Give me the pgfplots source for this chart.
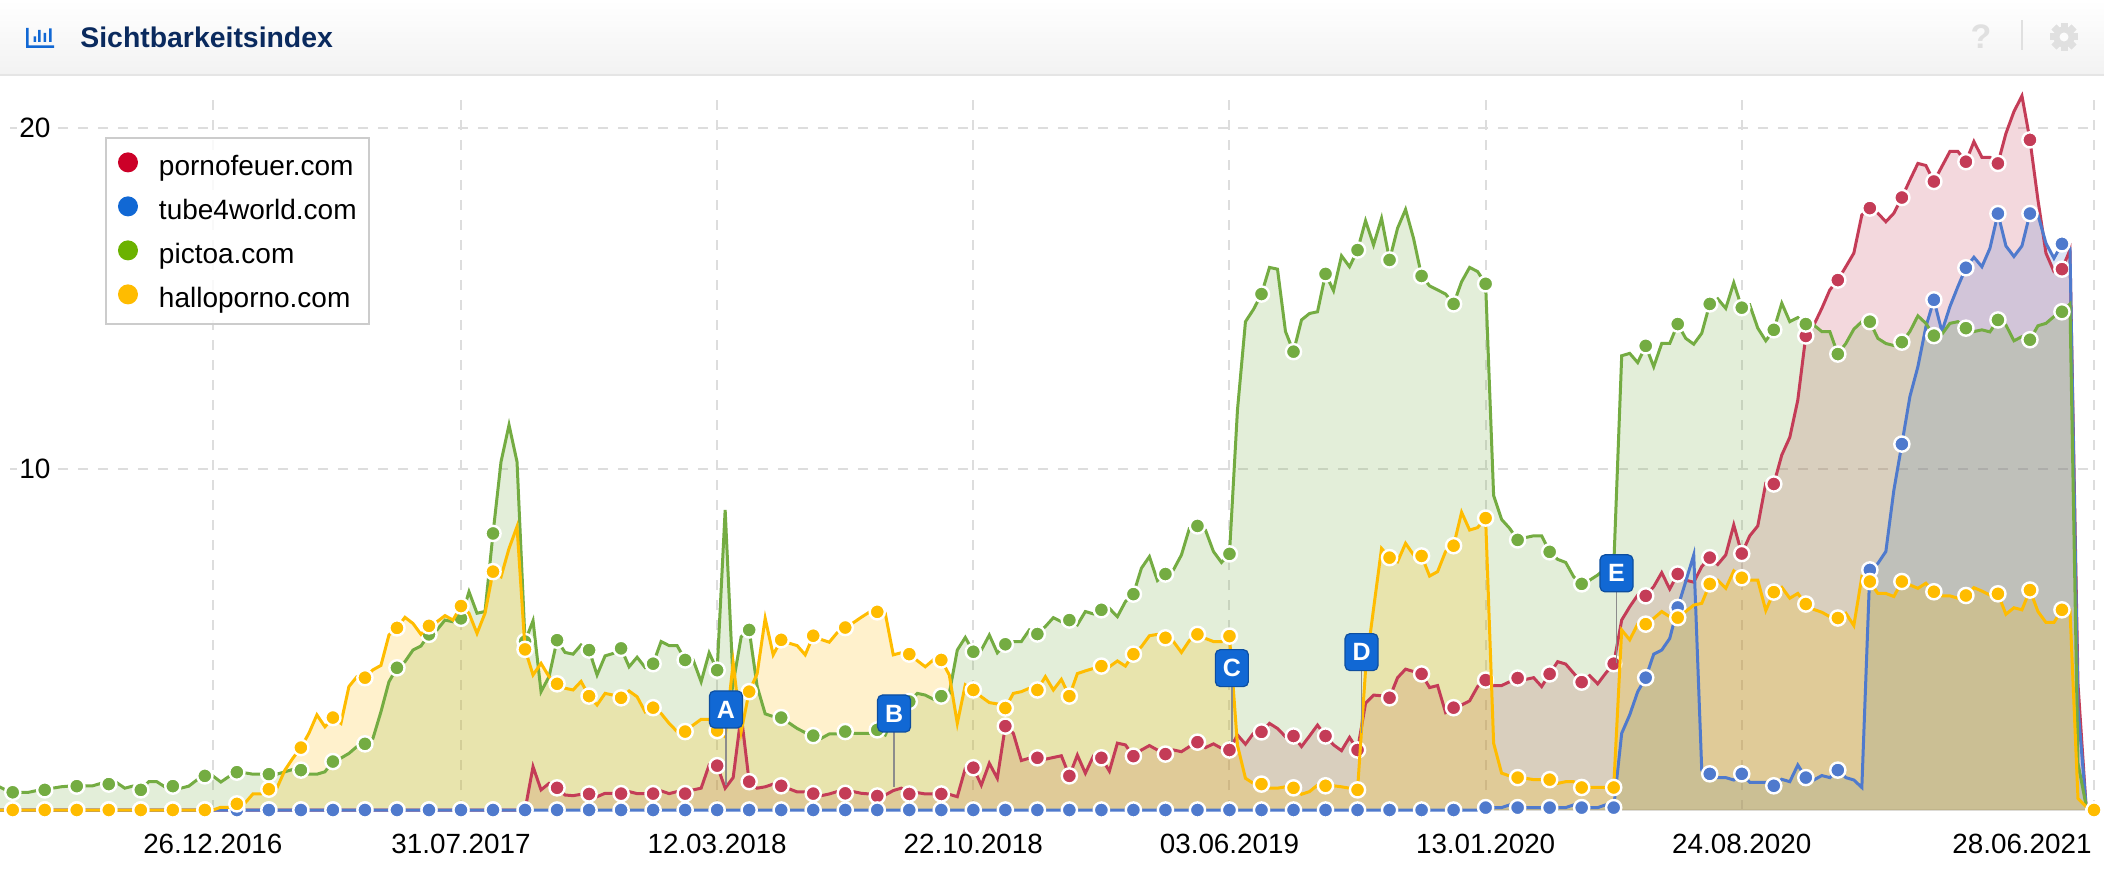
\documentclass[border=0pt]{standalone}
\usepackage{fontspec}
\setmainfont{Liberation Sans}
\usepackage{pgfplots}
\usepackage{pgfplotstable}
\pgfplotsset{compat=1.18}
\definecolor{cRed}{HTML}{C43C57}
\definecolor{cBlue}{HTML}{4F7ACD}
\definecolor{cGreen}{HTML}{74AC42}
\definecolor{cYellow}{HTML}{FFBC00}
\definecolor{legRed}{HTML}{CC0028}
\definecolor{legGreen}{HTML}{6BB200}
\definecolor{flagBlue}{HTML}{1168D4}
\definecolor{navy}{HTML}{0A2A5E}
\definecolor{gridc}{HTML}{DDDDDD}

% weekly values, i = week number (0 = first marker), 28.06.2021 = 260
\pgfplotstableread{
i red blue green yellow
-2 0 0 .72 0
-1 0 0 .6 0
0 0 0 .52 0
1 0 0 .52 0
2 0 0 .52 0
3 0 0 .57 0
4 0 0 .59 0
5 0 0 .64 0
6 0 0 .68 0
7 0 0 .70 0
8 0 0 .70 0
9 0 0 .71 0
10 0 0 .71 0
11 0 0 .78 0
12 0 0 .76 0
13 0 0 .80 0
14 0 0 .64 0
15 0 0 .70 0
16 0 0 .59 0
17 0 0 .83 0
18 0 0 .83 0
19 0 0 .68 0
20 0 0 .70 0
21 0 0 .64 0
22 0 0 .70 0
23 0 0 .88 0
24 0 0 1.0 0
25 0 0 1.0 0
26 0 0 .82 .08
27 0 0 .98 .08
28 0 0 1.11 .18
29 0 0 1.09 .2
30 0 0 1.05 .47
31 0 0 1.05 .47
32 0 0 1.05 .61
33 0 0 1.05 .64
34 0 0 1.12 1.17
35 0 0 1.19 1.52
36 0 0 1.17 1.83
37 0 0 1.05 2.25
38 0 0 1.05 2.79
39 0 0 1.12 2.44
40 0 0 1.42 2.71
41 0 0 1.52 2.54
42 0 0 1.66 3.62
43 0 0 1.86 3.91
44 0 0 1.94 3.88
45 0 0 2.10 4.11
46 0 0 2.88 4.24
47 0 0 3.76 5.13
48 0 0 4.17 5.34
49 0 0 4.35 5.65
50 0 0 4.69 5.47
51 0 0 4.81 5.15
52 0 0 5.15 5.40
53 0 0 5.28 5.52
54 0 0 5.57 5.70
55 0 0 5.52 5.57
56 0 0 5.62 5.98
57 0 0 6.40 5.77
58 0 0 5.77 5.18
59 0 0 5.82 5.77
60 0 0 8.11 6.99
61 0 0 10.21 6.84
62 0 0 11.29 7.67
63 0 0 10.21 8.31
64 0 0 4.94 4.71
65 1.27 0 5.55 3.96
66 .59 0 3.47 4.30
67 .78 0 3.91 3.91
68 .65 0 4.98 3.70
69 .44 0 4.62 3.57
70 .42 0 4.57 3.52
71 .46 0 4.84 3.77
72 .47 0 4.69 3.34
73 .39 0 3.96 3.08
74 .49 0 4.52 3.42
75 .49 0 4.59 3.37
76 .48 0 4.74 3.29
77 .54 0 4.2 3.49
78 .48 0 4.48 3.32
79 .48 0 4.18 2.88
80 .48 0 4.29 3.0
81 .56 0 4.94 2.83
82 .48 0 4.82 2.54
83 .54 0 4.82 2.3
84 .48 0 4.4 2.3
85 .59 0 4.4 2.49
86 .64 0 3.76 2.66
87 1.32 0 4.61 2.66
88 1.3 0 4.1 2.33
89 .64 0 8.8 2.15
90 .95 0 3.71 4.32
91 2.79 0 5.08 2.3
92 .83 0 5.28 3.47
93 .64 0 3.62 4.0
94 .68 0 2.82 5.62
95 .76 0 2.74 4.55
96 .71 0 2.71 4.99
97 .62 0 2.55 4.89
98 .53 0 2.39 4.82
99 .53 0 2.27 4.55
100 .48 0 2.18 5.11
101 .42 0 2.1 5.0
102 .47 0 2.23 4.92
103 .54 0 2.23 5.2
104 .49 0 2.3 5.35
105 .54 0 2.25 5.49
106 .49 0 2.25 5.65
107 .47 0 2.25 5.8
108 .41 0 2.35 5.81
109 .44 0 2.2 5.77
110 .57 0 2.7 4.55
111 .64 0 3.18 4.61
112 .47 0 3.18 4.57
113 .51 0 3.42 4.38
114 .47 0 3.37 4.2
115 .47 0 3.25 4.4
116 .47 0 3.34 4.4
117 .46 0 3.42 3.96
118 .39 0 4.69 2.54
119 1.22 0 5.06 3.67
120 1.24 0 4.64 3.52
121 .73 0 4.69 3.32
122 1.37 0 5.13 3.15
123 .93 0 4.61 3.11
124 2.46 0 4.86 2.99
125 2.25 0 4.94 3.42
126 1.45 0 4.94 3.47
127 1.52 0 5.28 3.57
128 1.53 0 5.16 3.52
129 1.49 0 5.38 3.91
130 1.54 0 5.64 3.52
131 1.59 0 5.52 3.83
132 1.0 0 5.57 3.34
133 1.61 0 5.43 4.0
134 1.08 0 5.82 4.08
135 1.58 0 5.75 4.15
136 1.53 0 5.87 4.22
137 1.14 0 5.91 4.2
138 1.96 0 5.67 4.37
139 1.91 0 6.11 4.22
140 1.58 0 6.33 4.57
141 1.76 0 7.09 4.79
142 1.89 0 7.43 5.11
143 1.76 0 6.73 5.15
144 1.64 0 6.92 5.05
145 1.76 0 7.04 4.94
146 1.71 0 7.48 4.62
147 1.86 0 8.26 4.97
148 1.99 0 8.33 5.15
149 1.83 0 8.21 5.03
150 1.94 0 7.58 4.94
151 1.81 0 7.26 4.94
152 1.76 0 7.51 5.1
153 2.2 0 11.73 1.9
154 1.93 0 14.32 .93
155 2.25 0 14.68 .78
156 2.29 0 15.13 .76
157 2.54 0 15.91 .64
158 2.39 0 15.86 .64
159 2.15 0 14.03 .68
160 2.17 0 13.44 .65
161 1.86 0 14.37 .46
162 2.17 0 14.56 .54
163 2.49 0 14.61 .73
164 2.17 0 15.72 .71
165 1.91 0 15.23 .71
166 1.74 0 16.25 .68
167 2.13 0 15.93 .64
168 1.76 0 16.42 .59
169 3.13 0 17.28 4.1
170 3.37 0 16.57 5.9
171 3.35 0 17.35 7.67
172 3.29 0 16.13 7.4
173 3.88 0 17.06 7.28
174 4.13 0 17.61 7.82
175 4.06 0 16.76 7.48
176 3.99 0 15.66 7.45
177 3.59 0 15.37 6.86
178 3.65 0 15.25 6.99
179 2.86 0 15.13 7.58
180 3.0 0 14.84 7.75
181 3.08 0 15.49 8.73
182 3.2 0 15.91 8.21
183 3.62 0 15.79 8.28
184 3.81 .07 15.43 8.56
185 3.65 .07 9.22 1.96
186 3.65 .07 8.52 1.08
187 3.76 .15 8.26 1.0
188 3.87 .07 7.92 .95
189 3.83 .07 7.99 .93
190 3.88 .07 8.04 .89
191 3.62 .07 8.04 .89
192 3.99 .07 7.57 .89
193 4.35 .07 7.35 .78
194 4.28 .07 7.26 .83
195 4.01 .15 6.84 .83
196 3.75 .07 6.63 .66
197 3.94 .07 6.74 .66
198 3.7 .07 6.89 .66
199 4.01 .15 7.09 .66
200 4.29 .07 7.1 .66
201 5.57 2.25 13.32 5.28
202 5.96 2.79 13.39 4.99
203 6.3 3.47 13.12 5.45
204 6.28 3.88 13.61 5.45
205 6.55 4.57 13.0 5.62
206 6.96 4.69 13.68 5.82
207 6.48 5.03 13.68 5.67
208 6.92 5.94 14.25 5.64
209 6.74 6.7 13.83 5.82
210 6.68 7.48 13.66 6.01
211 7.14 1.17 13.98 6.06
212 7.4 1.06 14.84 6.63
213 7.2 .95 14.99 6.74
214 7.48 .95 14.71 6.5
215 8.36 .88 15.46 7.01
216 7.52 1.06 14.73 6.81
217 8.04 .81 14.81 6.74
218 8.33 .81 14.13 6.74
219 9.58 .81 13.76 5.85
220 9.56 .71 14.08 6.39
221 10.41 .9 14.86 6.53
222 10.93 .83 14.32 6.21
223 12.02 1.32 14.44 6.35
224 13.9 .95 14.25 6.04
225 14.22 .88 14.22 5.88
226 14.71 1.01 14.03 5.8
227 15.25 .95 14.03 5.67
228 15.54 1.17 13.37 5.63
229 15.93 .95 13.68 5.77
230 16.33 .88 14.1 5.41
231 17.45 .66 14.32 6.84
232 17.65 7.04 14.32 6.7
233 17.5 7.23 13.83 6.35
234 17.25 7.58 13.68 6.35
235 17.5 9.38 13.62 6.26
236 17.96 10.73 13.72 6.7
237 18.47 12.12 14.03 6.6
238 18.96 13.0 14.49 6.5
239 18.9 14.17 14.27 6.65
240 18.43 14.96 13.91 6.4
241 18.87 14.03 13.95 6.28
242 19.31 14.76 14.27 6.28
243 19.31 15.35 14.32 6.21
244 19.01 15.9 14.13 6.29
245 19.6 16.21 14.03 6.52
246 19.14 15.93 14.08 6.42
247 19.14 16.47 14.02 6.3
248 18.96 17.49 14.37 6.34
249 19.84 16.54 14.22 5.74
250 20.48 16.23 13.76 5.93
251 20.94 16.54 13.88 5.87
252 19.65 17.49 13.79 6.45
253 17.89 17.45 14.2 5.82
254 16.33 16.62 14.27 5.5
255 15.79 16.18 14.47 5.5
256 15.86 16.6 14.61 5.87
257 16.42 16.47 14.84 5.87
258 3.7 3.0 1.37 .34
259 .15 .15 .15 .1
260 0 0 0 0
261 0 0 0 0
}\vis

\pgfplotsset{
  ser/.style={draw=#1, line width=1.5pt, mark=*, mark size=3.8pt, mark repeat=4, mark phase=2,
    mark options={fill=#1, draw=white, line width=1.2pt}},
  area/.style={fill=#1, fill opacity=0.2, draw=none, forget plot},
  legdot/.style={legend image code/.code={
    \path[use as bounding box,draw=none,fill=none] (0pt,-5pt) rectangle (10pt,5pt);
    \path[fill=#1,draw=none,fill opacity=1] (5pt,1.3pt) circle[radius=5pt];}},
}

\begin{document}
\begin{tikzpicture}[
  gridl/.style={gridc, line width=1pt, dash pattern=on 5pt off 5pt},
  flag/.style={fill=flagBlue, draw=flagBlue!75!black, line width=.6pt, rounded corners=2.5pt,
    minimum width=16.5pt, minimum height=18.5pt, inner sep=0pt, text=white,
    font=\fontsize{12.5}{13}\selectfont\bfseries},
  pole/.style={color=gray!90, line width=.8pt},
]
\useasboundingbox (0,0) rectangle (1052pt,438pt);
\fill[white] (0,0) rectangle (1052pt,438pt);

% header bar, in image pixels
\begin{scope}[x=0.5pt,y=-0.5pt,shift={(0pt,438pt)}]
  \shade[top color=white,bottom color=black!5] (0,0) rectangle (2104,74);
  \fill[black!10] (0,74) rectangle (2104,76);
  \fill[flagBlue] (26,28) rectangle (28.5,48) (26,45.5) rectangle (54,48);
  \fill[flagBlue] (33.5,36.5) rectangle (36,42) (38,30) rectangle (40.5,42)
                  (43.5,33) rectangle (46,42) (49,28.5) rectangle (51.5,42);
  \node[anchor=west,inner sep=0pt,text=navy,font=\fontsize{14.2}{16}\selectfont\bfseries] at (80,37) {Sichtbarkeitsindex};
  \node[text=black!12,inner sep=0pt,font=\fontsize{17}{18}\selectfont\bfseries] at (1981,37) {?};
  \fill[black!12] (2021,20) rectangle (2023,50);
  \foreach \a in {0,45,...,315} {
    \fill[black!12,rotate around={\a:(2064,37)}] (2060.5,23) rectangle (2067.5,51);
  }
  \fill[black!12] (2064,37) circle[radius=10.5];
  \fill[black!1] (2064,37) circle[radius=4.5];
\end{scope}

\begin{axis}[
  at={(0,0)}, anchor=south west,
  scale only axis, width=1052pt, height=438pt,
  xmin=-1.59, xmax=261.25, ymin=-1.935, ymax=23.753,
  clip mode=individual,
  axis line style={draw=none},
  major tick length=0pt, tick style={draw=none},
  xtick={25,56,88,120,152,184,216},
  xticklabels={26.12.2016,31.07.2017,12.03.2018,22.10.2018,03.06.2019,13.01.2020,24.08.2020},
  extra x ticks={260}, extra x tick labels={28.06.2021},
  extra x tick style={xticklabel style={xshift=-36pt}},
  ytick={10,20},
  xticklabel style={font=\fontsize{13.9}{15}\selectfont, anchor=center, yshift=16pt},
  yticklabel style={font=\fontsize{14}{15}\selectfont, anchor=center, xshift=17.5pt},
  /pgf/number format/assume math mode=true,
  legend style={at={(0.0499,0.8436)}, anchor=north west, draw=black!20, line width=1pt,
    fill=white, fill opacity=0.85, text opacity=1, inner xsep=6pt, inner ysep=7pt,
    font=\fontsize{14}{16}\selectfont, row sep=9pt,
    nodes={inner sep=0pt, text height=12pt, text depth=1pt},
    /tikz/every odd column/.append style={column sep=10.5pt}},
  legend cell align=left,
]
  % gridlines
  \draw[gridl] (axis cs:-0.34,20) -- (axis cs:0.54,20);
  \draw[gridl] (axis cs:5.66,20) -- (axis cs:260,20);
  \draw[gridl] (axis cs:-0.34,10) -- (axis cs:0.54,10);
  \draw[gridl] (axis cs:5.66,10) -- (axis cs:260,10);
  \foreach \t in {25,56,88,120,152,184,216,260} {
    \edef\tmp{\noexpand\draw[gridl] (axis cs:\t,0) -- (axis cs:\t,20.9);}\tmp
  }
  \draw[black!10,line width=1pt] (axis cs:-1.59,0) -- (axis cs:259,0);

  % areas first, the lines and markers stay undimmed above them
  \addplot[area=cRed] table[x=i,y=red] {\vis} \closedcycle;
  \addplot[area=cBlue] table[x=i,y=blue] {\vis} \closedcycle;
  \addplot[area=cGreen] table[x=i,y=green] {\vis} \closedcycle;
  \addplot[area=cYellow] table[x=i,y=yellow] {\vis} \closedcycle;

  \addplot[ser=cRed,legdot=legRed] table[x=i,y=red] {\vis};
  \addlegendentry{pornofeuer.com}
  \addplot[ser=cBlue,legdot=flagBlue] table[x=i,y=blue] {\vis};
  \addlegendentry{tube4world.com\hspace{3pt}}
  \addplot[ser=cGreen,legdot=legGreen] table[x=i,y=green] {\vis};
  \addlegendentry{pictoa.com}
  \addplot[ser=cYellow,legdot=cYellow] table[x=i,y=yellow] {\vis};
  \addlegendentry{halloporno.com}

  % event flags
  \draw[pole] (axis cs:89.1,2.95) -- (axis cs:89.1,.73);
  \node[flag] at (axis cs:89.1,2.95) {A};
  \draw[pole] (axis cs:110.1,2.83) -- (axis cs:110.1,.67);
  \node[flag] at (axis cs:110.1,2.83) {B};
  \draw[pole] (axis cs:152.3,4.16) -- (axis cs:152.3,1.99);
  \node[flag] at (axis cs:152.3,4.16) {C};
  \draw[pole] (axis cs:168.5,4.63) -- (axis cs:168.5,2.26);
  \node[flag] at (axis cs:168.5,4.63) {D};
  \draw[pole] (axis cs:200.35,6.94) -- (axis cs:200.35,4.31);
  \node[flag] at (axis cs:200.35,6.94) {E};
\end{axis}
\end{tikzpicture}
\end{document}
